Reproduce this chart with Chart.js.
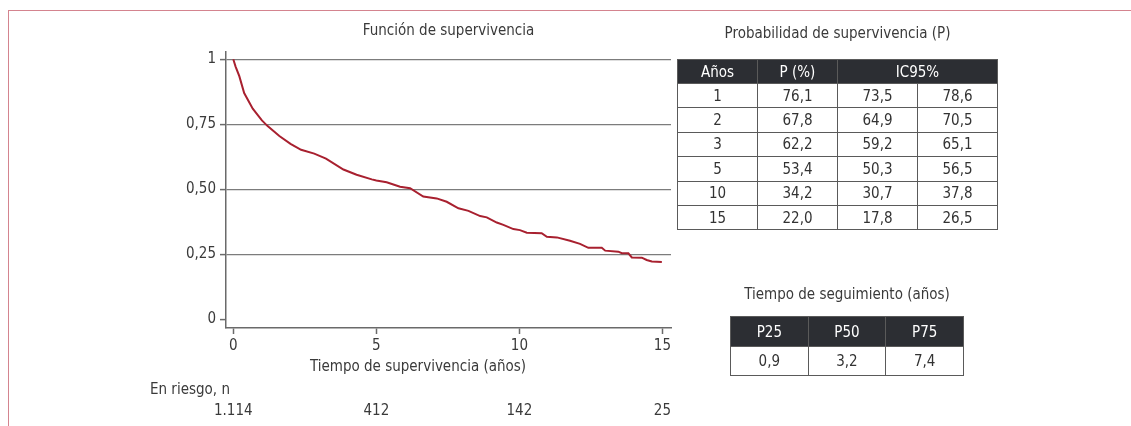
<!DOCTYPE html>
<html>
<head>
<meta charset="utf-8">
<script src="https://cdn.jsdelivr.net/npm/chart.js@4"></script>
<style>
  body { margin: 0; background: #fff; }
  #wrap { position: relative; width: 1131px; height: 426px; overflow: hidden; font-family: "Liberation Sans Narrow", "DejaVu Sans Condensed", sans-serif; color: #3a3a3a; }
  #frame { position: absolute; left: 8px; top: 10px; right: -2px; bottom: -2px; border-top: 1.5px solid #d4848f; border-left: 1.5px solid #d4848f; }
  canvas { position: absolute; left: 0; top: 0; }
  .cap { position: absolute; font-size: 15px; text-align: center; white-space: nowrap; }
  table { position: absolute; border-collapse: collapse; font-size: 15px; }
  td, th { border: 1px solid #5a5a5a; text-align: center; padding: 0; color: #333; }
  th { background: #2c2e33; color: #fff; font-weight: normal; }
</style>
</head>
<body>
<div id="wrap">
  <div id="frame"></div>
  <canvas id="survChart" width="1131" height="426"></canvas>
  <div class="cap" style="left:677px; width:321px; top:24px;">Probabilidad de supervivencia (P)</div>
  <table id="probTable" style="left:677px; top:59px; width:321px;"></table>
  <div class="cap" style="left:730px; width:234px; top:285px;">Tiempo de seguimiento (años)</div>
  <table id="followTable" style="left:730px; top:316px; width:234px;"></table>
</div>
<script>
// Kaplan-Meier curve
const survTimes = [0, 0.08, 0.21, 0.38, 0.68, 1.0, 1.2, 1.61, 2.0, 2.37, 2.83, 3.24, 3.85, 4.31, 4.84, 5.0, 5.36, 5.83, 6.18, 6.64, 7.11, 7.46, 7.87, 8.22, 8.63, 8.86, 9.21, 9.44, 9.79, 10.02, 10.26, 10.78, 10.96, 11.31, 11.77, 12.12, 12.41, 12.88, 13.0, 13.46, 13.58, 13.81, 13.93, 14.28, 14.45, 14.63, 14.98];
const survProb = [1, 0.972, 0.935, 0.87, 0.81, 0.765, 0.743, 0.705, 0.675, 0.652, 0.637, 0.618, 0.576, 0.556, 0.538, 0.534, 0.527, 0.51, 0.504, 0.472, 0.465, 0.452, 0.427, 0.417, 0.397, 0.392, 0.372, 0.363, 0.347, 0.343, 0.333, 0.331, 0.317, 0.315, 0.302, 0.29, 0.275, 0.275, 0.264, 0.26, 0.254, 0.254, 0.238, 0.237, 0.228, 0.222, 0.22];

const xTicks = [0, 5, 10, 15];
const yTicks = [0, 0.25, 0.5, 0.75, 1];
const yTickLabels = ['0', '0,25', '0,50', '0,75', '1'];
const atRisk = ['1.114', '412', '142', '25'];

const probYears = ['1', '2', '3', '5', '10', '15'];
const probP = ['76,1', '67,8', '62,2', '53,4', '34,2', '22,0'];
const ciLow = ['73,5', '64,9', '59,2', '50,3', '30,7', '17,8'];
const ciHigh = ['78,6', '70,5', '65,1', '56,5', '37,8', '26,5'];

const followLabels = ['P25', 'P50', 'P75'];
const followValues = ['0,9', '3,2', '7,4'];

const FONT = '"Liberation Sans Narrow", "DejaVu Sans Condensed", sans-serif';

// tables
const probTable = document.getElementById('probTable');
let html = '<tr style="height:24px"><th style="width:25%">Años</th><th style="width:25%">P (%)</th><th colspan="2">IC95%</th></tr>';
probYears.forEach((y, i) => {
    html += '<tr style="height:24.4px"><td>' + y + '</td><td>' + probP[i] + '</td><td style="width:25%">' + ciLow[i] + '</td><td>' + ciHigh[i] + '</td></tr>';
});
probTable.innerHTML = html;

const followTable = document.getElementById('followTable');
followTable.innerHTML =
    '<tr style="height:30px">' + followLabels.map(l => '<th style="width:33.3%">' + l + '</th>').join('') + '</tr>' +
    '<tr style="height:29px">' + followValues.map(v => '<td>' + v + '</td>').join('') + '</tr>';

// extra text: title, axis title, numbers at risk
const textPlugin = {
    id: 'texts',
    afterDraw(chart) {
        const ctx = chart.ctx;
        const x = chart.scales.x;
        ctx.save();
        ctx.fillStyle = '#3a3a3a';
        ctx.font = '15px ' + FONT;
        ctx.textBaseline = 'middle';
        ctx.textAlign = 'center';
        ctx.fillText('Función de supervivencia', (chart.chartArea.left + chart.chartArea.right) / 2, 31);
        ctx.fillText('Tiempo de supervivencia (años)', 418, 367);
        ctx.textAlign = 'left';
        ctx.fillText('En riesgo, n', 150, 390);
        ctx.textAlign = 'center';
        xTicks.forEach((t, i) => {
            ctx.fillText(atRisk[i], x.getPixelForValue(t), 411);
        });
        ctx.restore();
    }
};

new Chart(document.getElementById('survChart'), {
    type: 'line',
    data: {
        datasets: [{
            data: survTimes.map((t, i) => ({ x: t, y: survProb[i] })),
            borderColor: '#a8202f',
            borderWidth: 2,
            pointRadius: 0,
            tension: 0,
            fill: false
        }]
    },
    options: {
        responsive: false,
        animation: false,
        layout: { padding: { left: 0, top: 52, right: 460, bottom: 0 } },
        plugins: {
            legend: { display: false },
            tooltip: { enabled: false }
        },
        scales: {
            x: {
                type: 'linear',
                min: -0.255,
                max: 15.3,
                afterBuildTicks: s => { s.ticks = xTicks.map(v => ({ value: v })); },
                afterFit: s => { s.height = 98; },
                grid: { drawOnChartArea: false, tickLength: 6, tickColor: '#6a6a6a', tickWidth: 1.5 },
                border: { display: true, color: '#6a6a6a', width: 1.5 },
                ticks: { autoSkip: false, maxRotation: 0, padding: 3, color: '#3a3a3a', font: { family: FONT, size: 15 } }
            },
            y: {
                min: -0.0335,
                max: 1.028,
                afterBuildTicks: s => { s.ticks = yTicks.map(v => ({ value: v })); },
                afterFit: s => { s.width = 226; },
                grid: {
                    color: c => c.tick && c.tick.value === 0 ? 'rgba(0,0,0,0)' : '#7c7c7c',
                    lineWidth: 1.2,
                    tickLength: 6,
                    tickColor: '#6a6a6a',
                    tickWidth: 1.5
                },
                border: { display: true, color: '#6a6a6a', width: 1.5 },
                ticks: {
                    padding: 4,
                    color: '#3a3a3a',
                    font: { family: FONT, size: 15 },
                    callback: v => yTickLabels[yTicks.indexOf(v)]
                }
            }
        }
    },
    plugins: [textPlugin]
});
</script>
</body>
</html>
